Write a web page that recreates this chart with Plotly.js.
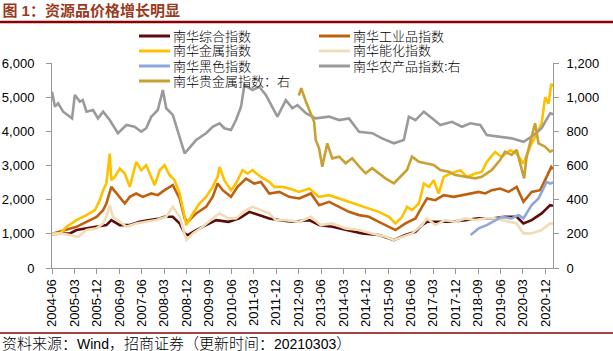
<!DOCTYPE html>
<html><head><meta charset="utf-8">
<script src="https://cdn.plot.ly/plotly-3.0.1.min.js"></script>
<style>html,body{margin:0;padding:0;background:#fff;} #chart{width:613px;height:351px;}</style>
</head><body><div id="chart"></div>
<script>
// ---------------- data ----------------
const seriesNames = ['南华综合指数','南华工业品指数','南华金属指数','南华能化指数','南华黑色指数','南华农产品指数:右','南华贵金属指数：右'];

const xTickLabels = ['2004-06','2005-03','2005-12','2006-09','2007-06','2008-03','2008-12','2009-09','2010-06','2011-03','2011-12','2012-09','2013-06','2014-03','2014-12','2015-09','2016-06','2017-03','2017-12','2018-09','2019-06','2020-03','2020-12'];

const compositeDates = ['2004-06-01','2005-01-07','2005-03-27','2005-07-27','2005-11-27','2006-03-27','2006-05-27','2006-09-07','2007-01-07','2007-05-07','2007-09-07','2008-01-07','2008-03-07','2008-06-15','2008-09-07','2008-11-07','2008-12-15','2009-03-27','2009-07-27','2009-11-27','2010-04-27','2010-09-07','2011-01-07','2011-05-07','2011-09-07','2012-01-07','2012-06-15','2013-01-07','2013-05-07','2013-10-15','2014-03-27','2014-10-15','2015-05-07','2015-11-07','2016-03-27','2016-07-27','2016-10-15','2016-12-15','2017-05-07','2017-10-15','2018-03-27','2018-09-07','2019-02-15','2019-07-27','2019-12-15','2020-03-07','2020-06-15','2020-10-15','2021-01-27','2021-03-03'];
const compositeValues = [1000,1013,1110,1159,1206,1256,1402,1256,1256,1352,1402,1451,1498,1498,1305,1013,964,1110,1256,1402,1352,1451,1644,1548,1451,1402,1352,1402,1256,1206,1110,1013,964,818,964,1060,1256,1352,1352,1352,1402,1451,1451,1498,1498,1305,1402,1597,1840,1820];

const industrialDates = ['2004-06-01','2004-11-27','2005-03-27','2005-07-27','2005-11-27','2006-02-15','2006-03-27','2006-05-27','2006-08-15','2006-11-07','2007-01-07','2007-03-27','2007-06-15','2007-09-27','2007-12-15','2008-03-07','2008-06-15','2008-09-07','2008-11-07','2008-12-15','2009-03-27','2009-07-27','2009-10-15','2009-12-15','2010-02-15','2010-05-27','2010-08-15','2010-11-27','2011-03-07','2011-05-27','2011-09-07','2012-01-07','2012-05-07','2012-09-07','2013-01-27','2013-05-07','2013-09-07','2014-01-07','2014-05-07','2014-09-07','2015-01-07','2015-05-07','2015-09-07','2015-11-27','2016-03-27','2016-07-27','2016-10-15','2016-12-15','2017-03-27','2017-07-07','2017-11-07','2018-02-15','2018-06-15','2018-09-07','2018-11-27','2019-02-15','2019-05-27','2019-09-07','2019-12-15','2020-03-07','2020-06-15','2020-09-27','2020-12-15','2021-02-10','2021-03-03'];
const industrialValues = [1000,1110,1206,1352,1498,1694,1889,2374,2132,1889,2082,2181,2082,2181,2132,2278,2424,2035,1451,1352,1597,1790,2082,2473,2278,2082,2374,2619,2473,2520,2181,2228,2082,2035,2181,1840,1936,1790,1644,1548,1498,1352,1206,1110,1305,1451,1790,2035,1986,2132,2082,2132,2181,2228,2181,2278,2327,2228,2374,1936,2228,2278,2666,2958,2900];

const metalDates = ['2004-06-01','2004-09-07','2004-11-27','2005-03-27','2005-07-27','2005-11-07','2006-01-07','2006-02-15','2006-03-27','2006-05-07','2006-05-27','2006-07-07','2006-09-07','2006-11-07','2007-01-07','2007-03-27','2007-05-27','2007-07-27','2007-11-07','2008-01-07','2008-03-07','2008-05-07','2008-07-07','2008-09-07','2008-11-07','2008-11-27','2009-02-15','2009-05-07','2009-07-27','2009-10-15','2009-12-15','2010-01-07','2010-03-07','2010-05-27','2010-07-27','2010-10-15','2010-12-15','2011-02-15','2011-05-27','2011-09-07','2011-11-07','2012-02-15','2012-05-07','2012-09-07','2013-01-07','2013-05-07','2013-09-07','2014-01-07','2014-05-07','2014-09-07','2015-01-07','2015-05-07','2015-09-07','2015-11-27','2016-02-15','2016-04-15','2016-06-15','2016-09-07','2016-11-07','2017-01-07','2017-03-07','2017-05-07','2017-07-07','2017-09-27','2018-01-27','2018-04-15','2018-07-27','2018-10-15','2018-12-15','2019-03-27','2019-06-15','2019-09-27','2019-12-15','2020-03-07','2020-05-27','2020-08-15','2020-10-15','2020-11-27','2021-01-07','2021-02-10','2021-03-03'];
const metalValues = [1000,1013,1206,1402,1548,1694,1986,2278,2473,3349,2570,2666,2911,2765,2374,3104,2862,3008,2424,2862,3008,2716,2570,2181,1498,1256,1597,1889,2082,2374,2666,2958,2570,2278,2473,2862,2765,2862,2666,2520,2374,2374,2327,2228,2327,2082,2132,2035,1936,1840,1743,1644,1498,1305,1498,1790,1694,1889,2473,2374,2570,2181,2666,2765,2862,2666,2765,2812,3104,3396,3250,3446,3349,3057,3542,3933,4225,5002,4809,5393,5300];

const energyDates = ['2004-06-01','2004-09-07','2005-01-07','2005-04-15','2005-07-27','2005-11-27','2006-02-15','2006-03-27','2006-05-07','2006-06-15','2006-09-07','2006-11-27','2007-03-27','2007-07-27','2007-11-27','2008-03-27','2008-06-15','2008-09-07','2008-11-07','2008-11-27','2009-02-15','2009-06-15','2009-10-15','2010-01-07','2010-04-27','2010-07-27','2010-11-27','2011-02-15','2011-05-27','2011-09-07','2011-11-27','2012-03-27','2012-09-07','2013-01-27','2013-05-27','2013-10-15','2014-03-27','2014-09-07','2015-02-15','2015-07-27','2015-11-07','2016-02-15','2016-06-15','2016-10-15','2016-12-15','2017-03-27','2017-07-27','2017-11-27','2018-03-27','2018-07-27','2018-11-27','2019-03-27','2019-09-07','2019-12-15','2020-03-07','2020-06-15','2020-10-15','2021-01-27','2021-03-03'];
const energyValues = [1000,1013,964,914,1110,1159,1305,1498,1840,1498,1352,1206,1305,1352,1402,1498,1790,1498,964,818,1013,1206,1451,1597,1451,1451,1694,1790,1694,1597,1402,1402,1352,1498,1256,1305,1159,1110,1013,914,818,914,1013,1256,1451,1256,1402,1352,1451,1402,1451,1451,1352,1305,1013,1013,1110,1305,1300];

const blackDates = ['2018-06-01','2018-09-07','2018-12-15','2019-03-27','2019-06-15','2019-10-15','2020-01-07','2020-03-07','2020-06-15','2020-09-07','2020-11-07','2020-12-15','2021-01-27','2021-03-03'];
const blackValues = [964,1159,1256,1402,1498,1451,1548,1451,1840,2035,2327,2520,2473,2500];

const agriDates = ['2004-06-01','2004-07-07','2004-08-15','2004-10-15','2005-02-01','2005-03-07','2005-05-07','2005-06-12','2005-07-27','2005-10-15','2005-12-15','2006-02-15','2006-05-07','2006-08-15','2006-11-27','2007-03-07','2007-05-27','2007-07-27','2007-09-27','2007-12-15','2008-02-15','2008-03-27','2008-06-15','2008-09-07','2008-11-07','2008-12-15','2009-03-27','2009-07-27','2009-10-15','2010-01-07','2010-03-07','2010-05-27','2010-07-27','2010-09-27','2010-11-07','2011-02-15','2011-05-07','2011-07-27','2011-10-15','2011-12-15','2012-03-27','2012-06-15','2012-08-15','2012-11-27','2013-03-27','2013-09-07','2014-01-07','2014-05-07','2014-09-07','2015-02-15','2015-06-15','2015-11-07','2016-03-07','2016-05-07','2016-07-27','2016-11-07','2017-02-15','2017-05-27','2017-10-15','2018-02-15','2018-05-27','2018-09-27','2018-12-15','2019-05-07','2019-10-15','2020-03-07','2020-06-15','2020-10-15','2021-01-27','2021-03-03'];
const agriValues = [1032,944,964,915,876,1013,974,983,915,925,876,915,866,789,837,827,798,818,886,925,1042,935,896,769,671,691,749,789,827,847,818,808,866,944,1071,1042,1061,1013,944,886,983,935,954,906,876,886,866,876,798,789,759,730,749,886,866,915,876,837,856,827,847,837,779,769,759,739,769,818,906,900];

const preciousDates = ['2012-09-01','2012-10-01','2012-11-27','2013-01-27','2013-03-07','2013-03-27','2013-05-07','2013-06-15','2013-08-15','2013-10-15','2014-01-07','2014-03-27','2014-06-15','2014-09-27','2014-11-27','2015-02-15','2015-05-07','2015-07-27','2015-11-07','2016-01-27','2016-04-15','2016-06-15','2016-09-07','2016-11-27','2017-03-07','2017-05-27','2017-09-07','2017-11-27','2018-03-27','2018-07-27','2018-10-15','2019-02-15','2019-05-27','2019-07-27','2019-10-15','2019-12-15','2020-03-15','2020-04-15','2020-06-15','2020-07-27','2020-09-07','2020-11-27','2021-01-27','2021-03-03'];
const preciousValues = [1010,1052,974,906,856,749,701,593,730,642,652,613,642,584,554,584,554,525,496,534,574,652,622,613,603,574,564,544,534,525,534,574,632,681,662,691,525,652,769,847,730,710,681,690];

// ---------------- styles ----------------
const colors = ['#5E0B0B','#C0600E','#FFC000','#EEDDB6','#8EA7DA','#9A9A9A','#C9A032'];
const W = 613, H = 351, ML = 52, MR = 60, MT = 63, MB = 83;
const PW = W - ML - MR, PH = H - MT - MB;
const pxX = px => (px - ML) / PW;
const pxY = py => (H - MB - py) / PH;

const xs = [compositeDates, industrialDates, metalDates, energyDates, blackDates, agriDates, preciousDates];
const ys = [compositeValues, industrialValues, metalValues, energyValues, blackValues, agriValues, preciousValues];
const axesOf = ['y','y','y','y','y','y2','y2'];

const traces = seriesNames.map((n, i) => ({
  type: 'scatter', mode: 'lines', name: n, x: xs[i], y: ys[i], yaxis: axesOf[i],
  line: {color: colors[i], width: 2.6}, showlegend: false, hoverinfo: 'skip'
}));

const tickFont = {family: 'Liberation Sans, Arial, sans-serif', size: 13, color: '#000'};
const cjk = 'Liberation Sans, "Noto Sans CJK SC", sans-serif';

// manual legend (two columns)
const legCols = [139, 319], legRows = [36, 51, 66, 81];
const shapes = [], annotations = [];
seriesNames.forEach((n, i) => {
  const cx = legCols[i % 2], ry = legRows[Math.floor(i / 2)];
  shapes.push({type: 'line', xref: 'paper', yref: 'paper', x0: pxX(cx), x1: pxX(cx + 31), y0: pxY(ry), y1: pxY(ry), line: {color: colors[i], width: 3}});
  annotations.push({xref: 'paper', yref: 'paper', x: pxX(cx + 33), y: pxY(ry), xanchor: 'left', yanchor: 'middle', text: n, showarrow: false,
    borderpad: 0, font: {family: cjk, size: 13, color: '#000', weight: 300}});
});
// header / footer rules
shapes.push({type: 'line', xref: 'paper', yref: 'paper', x0: pxX(0), x1: pxX(W), y0: pxY(22), y1: pxY(22), line: {color: '#8B0000', width: 2.5}});
shapes.push({type: 'line', xref: 'paper', yref: 'paper', x0: pxX(0), x1: pxX(W), y0: pxY(333), y1: pxY(333), line: {color: '#8B0000', width: 1.5}});
annotations.push({xref: 'paper', yref: 'paper', x: pxX(1), y: pxY(343), xanchor: 'left', yanchor: 'middle', showarrow: false, borderpad: 0,
  text: '资料来源：<span style="font-size:14px">Wind</span>，招商证券（更新时间：<span style="font-size:14px">20210303</span>）',
  font: {family: cjk, size: 15, color: '#000', weight: 300}});

const layout = {
  width: W, height: H, margin: {l: ML, r: MR, t: MT, b: MB, pad: 0},
  paper_bgcolor: '#fff', plot_bgcolor: '#fff', showlegend: false,
  title: {text: '<b>图 1：资源品价格增长明显</b>', xref: 'container', yref: 'container', x: 0.004, xanchor: 'left', y: 1 - 11 / H, yanchor: 'middle',
    font: {family: cjk, size: 15, color: '#9A3A1C'}},
  xaxis: {type: 'date', range: ['2004-06-01', '2021-03-03'], tickvals: xTickLabels.map(t => t + '-01'), ticktext: xTickLabels,
    tickangle: -90, ticks: 'outside', ticklen: 5, tickcolor: '#999', tickwidth: 1, showline: true, linecolor: '#999', linewidth: 1,
    showgrid: false, zeroline: false, tickfont: tickFont, fixedrange: true},
  yaxis: {range: [0, 6000], dtick: 1000, tick0: 0, tickformat: ',d', ticks: 'outside', ticklen: 5, tickcolor: '#999', showline: true,
    linecolor: '#999', linewidth: 1, showgrid: false, zeroline: false, tickfont: tickFont, ticklabelstandoff: 9},
  yaxis2: {overlaying: 'y', side: 'right', range: [0, 1200], dtick: 200, tick0: 0, tickformat: ',d', ticks: 'outside', ticklen: 5,
    tickcolor: '#999', showline: true, linecolor: '#999', linewidth: 1, showgrid: false, zeroline: false, tickfont: tickFont, ticklabelstandoff: 5},
  shapes: shapes, annotations: annotations
};

Plotly.newPlot('chart', traces, layout, {staticPlot: true, displayModeBar: false});
</script></body></html>
